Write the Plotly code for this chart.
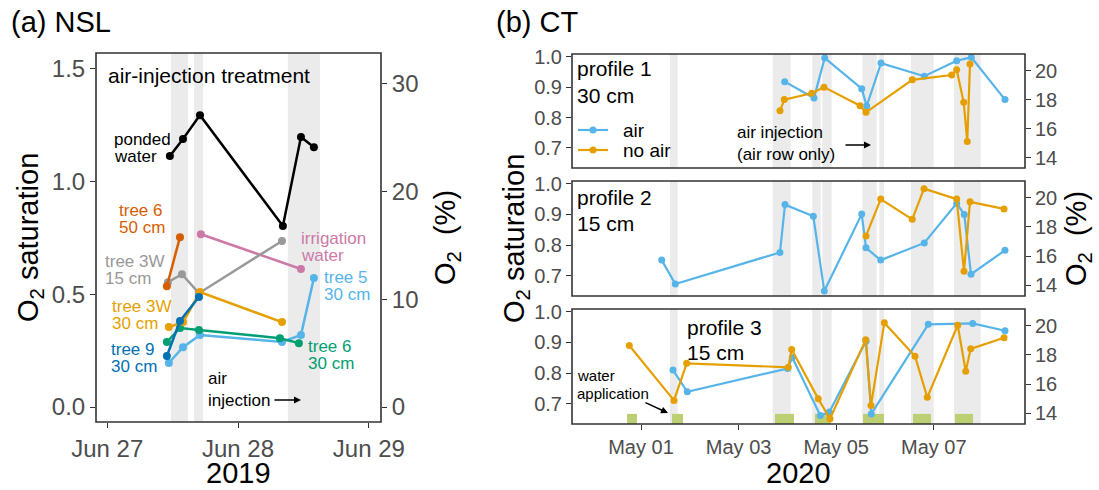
import pandas as pd
import plotly.graph_objects as go

W, H = 1099, 490
FONT = "Liberation Sans, Arial, sans-serif"
TICK_GREY = "#4D4D4D"
FRAME = "#333333"
BAND = "#EBEBEB"
WATER = "#BCCF73"
O2_AIR = 20.95  # O2 (%) at 100 % saturation

# ---------------- (a) NSL, 2019 : days after 2019-06-27 00:00 ----------------
NSL_BASE = "2019-06-27"
ponded_day = [0.479, 0.579, 0.709, 1.343, 1.481, 1.580]
ponded_sat = [1.111, 1.186, 1.292, 0.801, 1.195, 1.150]
t6_50_day = [0.456, 0.556]
t6_50_sat = [0.535, 0.752]
irrig_day = [0.716, 1.481]
irrig_sat = [0.765, 0.611]
t3w_15_day = [0.464, 0.571, 0.701, 1.336]
t3w_15_sat = [0.553, 0.588, 0.504, 0.735]
t3w_30_day = [0.471, 0.579, 0.709, 1.336]
t3w_30_sat = [0.354, 0.376, 0.509, 0.376]
t9_30_day = [0.456, 0.556, 0.701]
t9_30_sat = [0.226, 0.381, 0.487]
t6_30_day = [0.456, 0.556, 0.701, 1.320, 1.465]
t6_30_sat = [0.288, 0.350, 0.341, 0.305, 0.283]
t5_30_day = [0.471, 0.579, 0.709, 1.336, 1.481, 1.580]
t5_30_sat = [0.195, 0.265, 0.319, 0.288, 0.319, 0.571]
# air-injection periods (start, end)
nsl_inject = [(0.487, 0.617), (0.663, 0.732), (1.381, 1.626)]

# ---------------- (b) CT, 2020 : days after 2020-05-01 00:00 ----------------
CT_BASE = "2020-05-01"
p1_air_day = [2.945, 3.545, 3.764, 4.523, 4.625, 4.918, 5.805, 6.469, 6.768, 7.459]
p1_air_sat = [0.918, 0.864, 0.996, 0.895, 0.838, 0.979, 0.936, 0.987, 0.998, 0.859]
p1_noair_day = [2.848, 2.936, 3.498, 3.750, 4.488, 4.611, 5.559, 6.367, 6.469, 6.613, 6.686, 6.742]
p1_noair_sat = [0.822, 0.859, 0.880, 0.900, 0.839, 0.817, 0.924, 0.940, 0.957, 0.850, 0.721, 0.976]
p2_air_day = [0.424, 0.703, 2.848, 2.951, 3.531, 3.756, 4.523, 4.611, 4.912, 5.805, 6.469, 6.625, 6.762, 7.459]
p2_air_sat = [0.751, 0.673, 0.776, 0.932, 0.894, 0.650, 0.901, 0.791, 0.751, 0.807, 0.936, 0.900, 0.705, 0.783]
p2_noair_day = [4.611, 4.912, 5.559, 5.799, 6.469, 6.619, 6.742, 7.439]
p2_noair_sat = [0.830, 0.950, 0.884, 0.984, 0.950, 0.715, 0.941, 0.918]
p3_air_day = [0.656, 0.949, 3.006, 3.100, 3.674, 3.859, 4.611, 4.719, 5.887, 6.797, 7.459]
p3_air_sat = [0.810, 0.739, 0.815, 0.851, 0.662, 0.673, 0.904, 0.667, 0.959, 0.962, 0.938]
p3_noair_day = [-0.240, 0.676, 0.936, 3.018, 3.088, 3.633, 3.873, 4.605, 4.713, 4.986, 5.615, 5.867,
                6.490, 6.654, 6.756, 7.439]
p3_noair_sat = [0.890, 0.711, 0.832, 0.819, 0.877, 0.716, 0.651, 0.909, 0.694, 0.964, 0.855, 0.721,
                0.956, 0.806, 0.879, 0.915]
ct_inject = [(0.594, 0.752), (2.699, 3.068), (3.510, 3.682), (3.715, 3.908), (4.535, 4.830),
             (4.883, 4.980), (5.533, 5.998), (6.414, 6.961)]
ct_water = [(-0.287, -0.082), (0.635, 0.861), (2.746, 3.135), (3.566, 3.893), (4.549, 4.980),
            (5.574, 5.943), (6.434, 6.803)]

# ---------------- axis limits ----------------
NSL_XLIM = (-0.086, 2.093)
NSL_YLIM = (-0.066, 1.567)
CT_XLIM = (-1.414, 7.869)
CT_YLIM = (0.634, 1.009)
WATER_TOP = 0.667

C_AIR = "#56B4E9"
C_NOAIR = "#E69F00"


def stamp(base, days):
    t = pd.Timestamp(base) + pd.to_timedelta(pd.Series(days, dtype=float), unit="D")
    return list(t.dt.strftime("%Y-%m-%d %H:%M:%S"))


def one(base, d):
    return stamp(base, [d])[0]


def fx(x):
    return x / W


def fy(y):
    return 1 - y / H


fig = go.Figure()

# ---- panel (a) series
nsl_series = [
    (ponded_day, ponded_sat, "#000000"),
    (irrig_day, irrig_sat, "#CC79A7"),
    (t3w_15_day, t3w_15_sat, "#999999"),
    (t6_50_day, t6_50_sat, "#D55E00"),
    (t5_30_day, t5_30_sat, "#56B4E9"),
    (t6_30_day, t6_30_sat, "#009E73"),
    (t3w_30_day, t3w_30_sat, "#E69F00"),
    (t9_30_day, t9_30_sat, "#0072B2"),
]
for d, s, c in nsl_series:
    fig.add_trace(go.Scatter(x=stamp(NSL_BASE, d), y=s, mode="lines+markers",
                             line=dict(color=c, width=2.5), marker=dict(color=c, size=8),
                             xaxis="x", yaxis="y", showlegend=False, hoverinfo="skip"))
fig.add_trace(go.Scatter(x=[None], y=[None], xaxis="x", yaxis="y2", showlegend=False))

# ---- panel (b) series
ct_rows = [
    ("y3", "y4", p1_air_day, p1_air_sat, p1_noair_day, p1_noair_sat),
    ("y5", "y6", p2_air_day, p2_air_sat, p2_noair_day, p2_noair_sat),
    ("y7", "y8", p3_air_day, p3_air_sat, p3_noair_day, p3_noair_sat),
]
for ya, yb, ad, asat, nd, nsat in ct_rows:
    fig.add_trace(go.Scatter(x=stamp(CT_BASE, ad), y=asat, mode="lines+markers",
                             line=dict(color=C_AIR, width=2.2), marker=dict(color=C_AIR, size=7),
                             xaxis="x2", yaxis=ya, showlegend=False, hoverinfo="skip"))
    fig.add_trace(go.Scatter(x=stamp(CT_BASE, nd), y=nsat, mode="lines+markers",
                             line=dict(color=C_NOAIR, width=2.2), marker=dict(color=C_NOAIR, size=7),
                             xaxis="x2", yaxis=ya, showlegend=False, hoverinfo="skip"))
    fig.add_trace(go.Scatter(x=[None], y=[None], xaxis="x2", yaxis=yb, showlegend=False))

shapes = []
# air-injection bands
for a, b in nsl_inject:
    shapes.append(dict(type="rect", xref="x", yref="y domain", x0=one(NSL_BASE, a), x1=one(NSL_BASE, b),
                       y0=0, y1=1, fillcolor=BAND, line=dict(width=0), layer="below"))
for ya in ("y3", "y5", "y7"):
    for a, b in ct_inject:
        shapes.append(dict(type="rect", xref="x2", yref=ya + " domain", x0=one(CT_BASE, a),
                           x1=one(CT_BASE, b), y0=0, y1=1, fillcolor=BAND, line=dict(width=0),
                           layer="below"))
# water application marks
for a, b in ct_water:
    shapes.append(dict(type="rect", xref="x2", yref="y7", x0=one(CT_BASE, a), x1=one(CT_BASE, b),
                       y0=CT_YLIM[0], y1=WATER_TOP, fillcolor=WATER, line=dict(width=0), layer="below"))

# panel frames
frames = [(96, 53, 381, 422), (572, 54, 1025, 168), (572, 181, 1025, 296), (572, 309, 1025, 424)]
for x0, y0, x1, y1 in frames:
    shapes.append(dict(type="rect", xref="paper", yref="paper", x0=fx(x0), x1=fx(x1), y0=fy(y1),
                       y1=fy(y0), line=dict(color=FRAME, width=1.6), fillcolor="rgba(0,0,0,0)",
                       layer="above"))

# legend keys (profile 1)
for yk, c in ((130, C_AIR), (150, C_NOAIR)):
    shapes.append(dict(type="line", xref="paper", yref="paper", x0=fx(578), x1=fx(608),
                       y0=fy(yk), y1=fy(yk), line=dict(color=c, width=2.2)))
    shapes.append(dict(type="circle", xref="paper", yref="paper", xsizemode="pixel",
                       ysizemode="pixel", xanchor=fx(593), yanchor=fy(yk), x0=-3.5, x1=3.5,
                       y0=-3.5, y1=3.5, fillcolor=c, line=dict(width=0)))

ann = []


def text(s, x, y, size, color="black", xanchor="left", angle=0, yanchor="middle"):
    ann.append(dict(text=s, x=fx(x), y=fy(y), xref="paper", yref="paper", xanchor=xanchor,
                    yanchor=yanchor, showarrow=False, textangle=angle, borderpad=0,
                    font=dict(size=size, color=color, family=FONT)))


def arrow(x0, y0, x1, y1):
    ann.append(dict(text="", x=fx(x1), y=fy(y1), xref="paper", yref="paper", ax=x0 - x1,
                    ay=y0 - y1, axref="pixel", ayref="pixel", showarrow=True, arrowhead=2,
                    arrowsize=1, arrowwidth=1.4, arrowcolor="black"))


# titles
text("(a) NSL", 10, 22, 29)
text("(b) CT", 495, 22, 29)
text("O<sub>2</sub> saturation", 30, 238, 29, angle=-90, xanchor="center")
text("O<sub>2</sub>  (%)", 447, 238, 29, angle=-90, xanchor="center")
text("O<sub>2</sub> saturation", 516, 239, 29, angle=-90, xanchor="center")
text("O<sub>2</sub>  (%)", 1078, 239, 29, angle=-90, xanchor="center")
text("2019", 238, 490, 29, xanchor="center", yanchor="bottom")
text("2020", 798, 490, 29, xanchor="center", yanchor="bottom")

# panel (a) labels
text("air-injection treatment", 107, 75, 21)
nsl_labels = [
    (["ponded", "water"], 113, 139, "#000000"),
    (["tree 6", "50 cm"], 118, 210, "#D55E00"),
    (["irrigation", "water"], 300, 238, "#CC79A7"),
    (["tree 3W", "15 cm"], 104, 261, "#999999"),
    (["tree 5", "30 cm"], 323, 277, "#56B4E9"),
    (["tree 3W", "30 cm"], 111, 306, "#E69F00"),
    (["tree 9", "30 cm"], 110, 349, "#0072B2"),
    (["tree 6", "30 cm"], 307, 346, "#009E73"),
]
for lines, x, y, c in nsl_labels:
    for i, ln in enumerate(lines):
        text(ln, x, y + 17 * i, 17, color=c)
text("air", 207, 378, 17)
text("injection", 207, 400, 17)
arrow(273, 400, 301, 400)

# panel (b) labels
text("profile 1", 576, 68, 21)
text("30 cm", 576, 95, 21)
text("profile 2", 576, 198, 21)
text("15 cm", 576, 224, 21)
text("profile 3", 686, 327, 21)
text("15 cm", 686, 352, 21)
text("air", 622, 130, 19)
text("no air", 622, 150, 19)
text("air injection", 736, 133, 17)
text("(air row only)", 736, 154, 17)
arrow(844, 145, 871, 145)
text("water", 576, 375, 15)
text("application", 576, 393, 15)
arrow(644, 402, 668, 413)

axis_common = dict(showgrid=False, zeroline=False, showline=False, ticks="outside", ticklen=5,
                   tickwidth=1.3, tickcolor=FRAME, fixedrange=True, automargin=False)

layout = dict(
    width=W, height=H, margin=dict(l=0, r=0, t=0, b=0, autoexpand=False), paper_bgcolor="white",
    plot_bgcolor="rgba(0,0,0,0)", font=dict(family=FONT), showlegend=False,
    shapes=shapes, annotations=ann,
    xaxis=dict(axis_common, domain=[fx(96), fx(381)], anchor="y", type="date",
               range=[one(NSL_BASE, NSL_XLIM[0]), one(NSL_BASE, NSL_XLIM[1])],
               tick0=NSL_BASE, dtick=86400000, tickformat="%b %d",
               tickfont=dict(size=24, color=TICK_GREY)),
    yaxis=dict(axis_common, domain=[fy(422), fy(53)], anchor="x", range=list(NSL_YLIM),
               tickvals=[0, 0.5, 1.0, 1.5], ticktext=["0.0", "0.5", "1.0", "1.5"],
               tickfont=dict(size=24, color=TICK_GREY)),
    yaxis2=dict(axis_common, overlaying="y", anchor="x", side="right",
                range=[NSL_YLIM[0] * O2_AIR, NSL_YLIM[1] * O2_AIR], tickvals=[0, 10, 20, 30],
                tickfont=dict(size=24, color=TICK_GREY)),
    xaxis2=dict(axis_common, domain=[fx(572), fx(1025)], anchor="y7", type="date",
                range=[one(CT_BASE, CT_XLIM[0]), one(CT_BASE, CT_XLIM[1])],
                tick0=CT_BASE, dtick=2 * 86400000, tickformat="%b %d",
                tickfont=dict(size=20, color=TICK_GREY)),
)
row_domains = {"y3": (54, 168), "y5": (181, 296), "y7": (309, 424)}
for ya, yb in (("y3", "y4"), ("y5", "y6"), ("y7", "y8")):
    top, bot = row_domains[ya]
    layout["yaxis" + ya[1:]] = dict(axis_common, domain=[fy(bot), fy(top)], anchor="x2",
                                    range=list(CT_YLIM), tickvals=[0.7, 0.8, 0.9, 1.0],
                                    ticktext=["0.7", "0.8", "0.9", "1.0"],
                                    tickfont=dict(size=20, color=TICK_GREY))
    layout["yaxis" + yb[1:]] = dict(axis_common, overlaying=ya, anchor="x2", side="right",
                                    range=[CT_YLIM[0] * O2_AIR, CT_YLIM[1] * O2_AIR],
                                    tickvals=[14, 16, 18, 20],
                                    tickfont=dict(size=20, color=TICK_GREY))

fig.update_layout(**layout)
fig.write_html("out.html")
